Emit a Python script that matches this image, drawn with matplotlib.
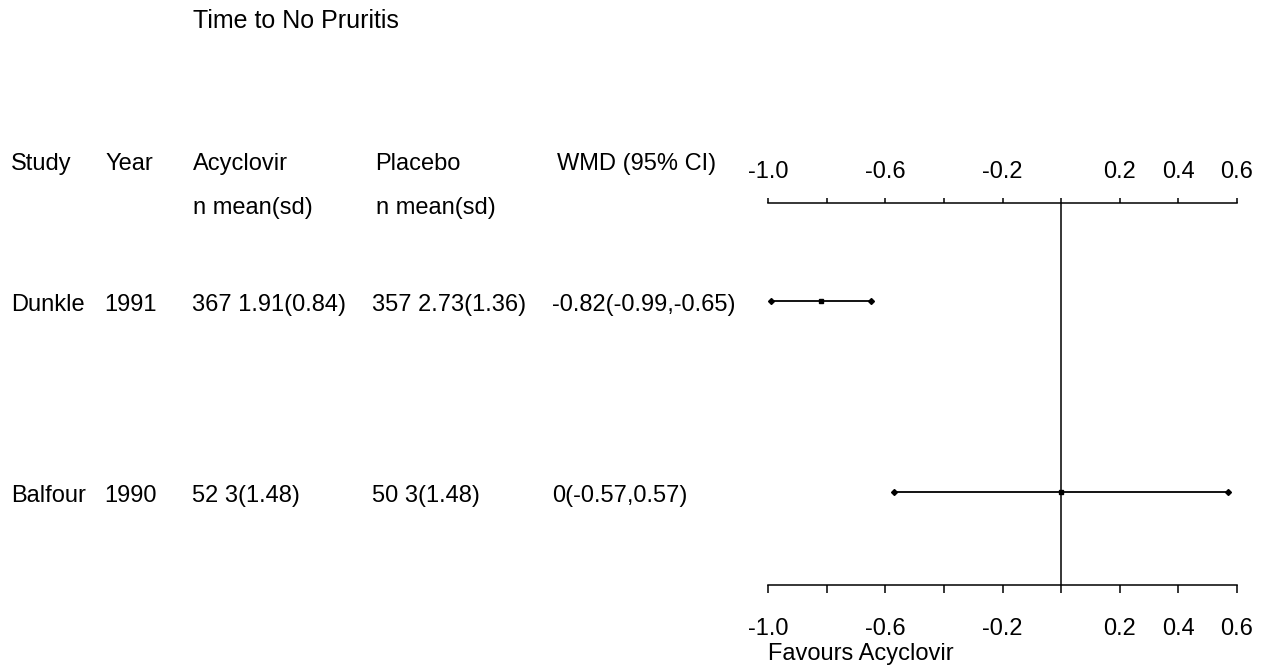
import matplotlib.pyplot as plt
from matplotlib.transforms import blended_transform_factory

plt.rcParams['font.family'] = ['Liberation Sans', 'DejaVu Sans']

# study data
studies = ['Dunkle', 'Balfour']
years = ['1991', '1990']
acyclovir = ['367 1.91(0.84)', '52 3(1.48)']
placebo = ['357 2.73(1.36)', '50 3(1.48)']
wmd_text = ['-0.82(-0.99,-0.65)', '0(-0.57,0.57)']
wmd = [-0.82, 0.0]
ci_low = [-0.99, -0.57]
ci_high = [-0.65, 0.57]

ticks = [-1.0, -0.8, -0.6, -0.4, -0.2, 0.0, 0.2, 0.4, 0.6]
label_ticks = [-1.0, -0.6, -0.2, 0.2, 0.4, 0.6]
label_text = ['-1.0', '-0.6', '-0.2', '0.2', '0.4', '0.6']

W, H = 1263, 670
fig = plt.figure(figsize=(W / 100, H / 100), dpi=100)

# background axes in pixel coords for the text columns
bg = fig.add_axes([0, 0, 1, 1])
bg.set_xlim(0, W)
bg.set_ylim(H, 0)
bg.axis('off')

fs = 17
row_y = [301, 492]
head_x = [11, 105, 193, 375, 557]
val_x = [11, 104, 192, 372, 552]

bg.text(193, 28, 'Time to No Pruritis', fontsize=18, va='baseline')
for x, s in zip(head_x, ['Study', 'Year', 'Acyclovir', 'Placebo', 'WMD (95% CI)']):
    bg.text(x, 170, s, fontsize=fs, va='baseline')
bg.text(193, 214, 'n mean(sd)', fontsize=fs, va='baseline')
bg.text(376, 214, 'n mean(sd)', fontsize=fs, va='baseline')
for i in range(len(studies)):
    row = [studies[i], years[i], acyclovir[i], placebo[i], wmd_text[i]]
    for x, s in zip(val_x, row):
        bg.text(x, row_y[i] + 10, s, fontsize=fs, va='baseline')
bg.text(768, 660, 'Favours Acyclovir', fontsize=fs, va='baseline')

# forest axes
x0, x1 = 768, 1237
y_top, y_bot = 203, 585
ax = fig.add_axes([x0 / W, 1 - y_bot / H, (x1 - x0) / W, (y_bot - y_top) / H])
ax.patch.set_alpha(0)
ax.set_xlim(-1.0, 0.6)
ax.set_ylim(y_bot, y_top)
for s in ['left', 'right']:
    ax.spines[s].set_visible(False)
for s in ['top', 'bottom']:
    ax.spines[s].set_linewidth(1.1)
ax.set_yticks([])
ax.set_xticks(ticks)
ax.tick_params(axis='x', top=True, bottom=True, labeltop=False,
               labelbottom=False, width=1.1, direction='out')
for t in ax.xaxis.get_major_ticks():
    t.tick1line.set_markersize(5.8)
    t.tick2line.set_markersize(3.6)

# tick labels: x in data units, y in pixels
tr = blended_transform_factory(ax.transData, bg.transData)
for v, s in zip(label_ticks, label_text):
    bg.text(v, 178, s, fontsize=fs, ha='center', va='baseline', transform=tr)
    bg.text(v, 635, s, fontsize=fs, ha='center', va='baseline', transform=tr)

ax.axvline(0, color='black', lw=1.1)

for i in range(len(studies)):
    ax.plot([ci_low[i], ci_high[i]], [row_y[i], row_y[i]], color='black', lw=1.3)
    ax.plot([ci_low[i], ci_high[i]], [row_y[i], row_y[i]], ls='none', marker='D',
            ms=3, color='black')
    ax.plot(wmd[i], row_y[i], marker='s', ms=3.5, color='black')

fig.savefig('out.png', dpi=100)
